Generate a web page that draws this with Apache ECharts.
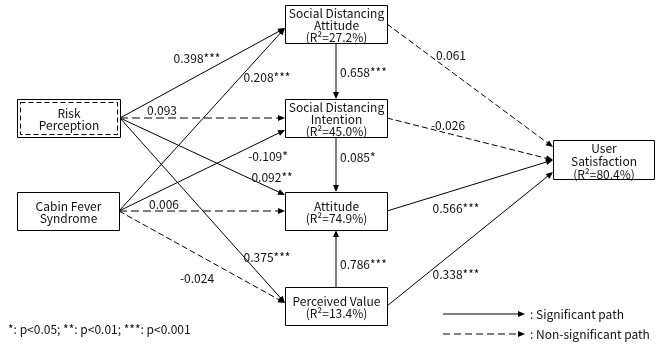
<!DOCTYPE html>
<html><head><meta charset="utf-8">
<script src="https://cdn.jsdelivr.net/npm/echarts@6/dist/echarts.min.js"></script>
<style>html,body{margin:0;padding:0;background:#fff}#c{width:661px;height:349px}</style>
</head><body><div id="c"></div>
<script>
// ---------------- data ----------------
const constructs = ['Risk Perception','Cabin Fever Syndrome','Social Distancing Attitude','Social Distancing Intention','Attitude','Perceived Value','User Satisfaction'];
const constructLines = [['Risk','Perception'],['Cabin Fever','Syndrome'],['Social Distancing','Attitude'],['Social Distancing','Intention'],['Attitude'],['Perceived Value'],['User','Satisfaction']];
const rSquared = [null,null,27.2,45.0,74.9,13.4,80.4];
const pathFrom  = [0,1,0,1,0,1,0,1,2,3,5,2,3,4,5];
const pathTo    = [2,2,3,3,4,4,5,5,3,4,4,6,6,6,6];
const pathCoef  = [0.398,0.208,0.093,-0.109,0.092,0.006,0.375,-0.024,0.658,0.085,0.786,0.061,-0.026,0.566,0.338];
const pathStars = ['***','***','','*','**','','***','','***','*','***','','','***','***'];
const legendItems = [': Significant path', ': Non-significant path'];
const footnote = '*: p<0.05; **: p<0.01; ***: p<0.001';

// ---------------- layout (diagram geometry, in chart units) ----------------
const boxLayout = [[17,99,103,38],[17,192,102,38],[285,5,102,38],[285,99,102,38],[285,192,102,38],[285,287,102,38],[553,140,101,39]];
const targetOffset = [23,23,19,31,3,19,16,16,0,0,0,7,20,20,32];
const labelLayout = [[197,58,'center'],[267,77,'center'],[162,110,'center'],[268,156,'center'],[272,177,'center'],[164,204,'center'],[267,257,'center'],[197,278,'center'],[340,72,'left'],[340,157,'left'],[340,264,'left'],[451,55,'center'],[448,125,'center'],[456,208,'center'],[456,274,'center']];
const legendLayout = [[443,525,314],[443,525,334]];
const footLayout = [8,329];
const FONT = '"Noto Sans CJK KR", "Noto Sans", sans-serif';
const TXT = '#111';

function anchors(i){
  const s = boxLayout[pathFrom[i]], t = boxLayout[pathTo[i]];
  if (s[0] === t[0]) {
    const cx = s[0] + s[2]/2;
    if (t[1] > s[1]) return [cx, s[1]+s[3], cx, t[1]];
    return [cx, s[1], cx, t[1]+t[3]];
  }
  return [s[0]+s[2], s[1]+s[3]/2, t[0], t[1]+targetOffset[i]];
}
const edgeData = pathCoef.map((c,i)=>{ const a = anchors(i); return [a[0],a[1],a[2],a[3], pathStars[i] ? 1 : 0]; });

function arrowEl(api, x1,y1,x2,y2, sig, dash){
  const p1 = api.coord([x1,y1]), p2 = api.coord([x2,y2]);
  const dx = p2[0]-p1[0], dy = p2[1]-p1[1], L = Math.sqrt(dx*dx+dy*dy);
  const ux = dx/L, uy = dy/L, len = 7, hw = 3;
  const bx = p2[0]-ux*len, by = p2[1]-uy*len;
  const d = dash || (Math.abs(dy) < 0.5 ? [8,4] : [6,3]);
  return {type:'group', children:[
    {type:'line', shape:{x1:p1[0],y1:p1[1],x2:bx+ux*1,y2:by+uy*1}, style:{stroke:'#000', lineWidth:1, lineDash: sig ? null : d}},
    {type:'polygon', shape:{points:[[p2[0],p2[1]],[bx-uy*hw,by+ux*hw],[bx+uy*hw,by-ux*hw]]}, style:{fill:'#000'}}
  ]};
}

const chart = echarts.init(document.getElementById('c'), null, {renderer:'canvas'});
chart.setOption({
  animation:false,
  backgroundColor:'#fff',
  grid:{left:0,right:0,top:0,bottom:0},
  xAxis:{type:'value',min:0,max:661,show:false},
  yAxis:{type:'value',min:0,max:349,inverse:true,show:false},
  series:[
    { type:'custom', z:1, data: edgeData,
      renderItem:(p,api)=>arrowEl(api, api.value(0),api.value(1),api.value(2),api.value(3),api.value(4)) },
    { type:'custom', z:2, data: boxLayout,
      renderItem:(params,api)=>{
        const i = params.dataIndex;
        const p0 = api.coord([api.value(0), api.value(1)]);
        const p1 = api.coord([api.value(0)+api.value(2), api.value(1)+api.value(3)]);
        const x = Math.round(p0[0])+0.5, y = Math.round(p0[1])+0.5, w = Math.round(p1[0]-p0[0]), h = Math.round(p1[1]-p0[1]);
        const ch = [{type:'rect', shape:{x,y,width:w,height:h}, style:{fill:'#fff', stroke:'#000', lineWidth:1}}];
        if (i === 0) ch.push({type:'rect', shape:{x:x+3,y:y+3,width:w-6,height:h-6}, style:{fill:'none', stroke:'#000', lineWidth:1, lineDash:[5,3]}});
        const lines = constructLines[i].slice();
        if (rSquared[i] != null) lines.push('(R²=' + rSquared[i].toFixed(1) + '%)');
        ch.push({type:'text', style:{text:lines.join('\n'), x:x+w/2, y:y+h/2+1, align:'center', verticalAlign:'middle', fontSize:12, fontFamily:FONT, lineHeight: i===6 ? 13 : 12, fill:TXT}});
        return {type:'group', children:ch};
      } },
    { type:'custom', z:3, data: labelLayout.map(l=>[l[0],l[1]]),
      renderItem:(params,api)=>{
        const i = params.dataIndex, p = api.coord([api.value(0), api.value(1)]);
        return {type:'text', style:{text: pathCoef[i].toFixed(3) + pathStars[i], x:p[0], y:p[1], align:labelLayout[i][2], verticalAlign:'middle', fontSize:12, fontFamily:FONT, fill:TXT}};
      } },
    { type:'custom', z:3, data: legendLayout,
      renderItem:(params,api)=>{
        const i = params.dataIndex;
        const a = arrowEl(api, api.value(0), api.value(2), api.value(1), api.value(2), i===0 ? 1 : 0, [7,4]);
        const tp = api.coord([api.value(1)+5, api.value(2)]);
        a.children.push({type:'text', style:{text:legendItems[i], x:tp[0], y:tp[1], align:'left', verticalAlign:'middle', fontSize:12, fontFamily:FONT, fill:TXT}});
        return a;
      } },
    { type:'custom', z:3, data:[footLayout],
      renderItem:(params,api)=>{
        const p = api.coord([api.value(0), api.value(1)]);
        return {type:'text', style:{text:footnote, x:p[0], y:p[1], align:'left', verticalAlign:'middle', fontSize:12, fontFamily:FONT, fill:TXT}};
      } }
  ]
});
</script></body></html>
